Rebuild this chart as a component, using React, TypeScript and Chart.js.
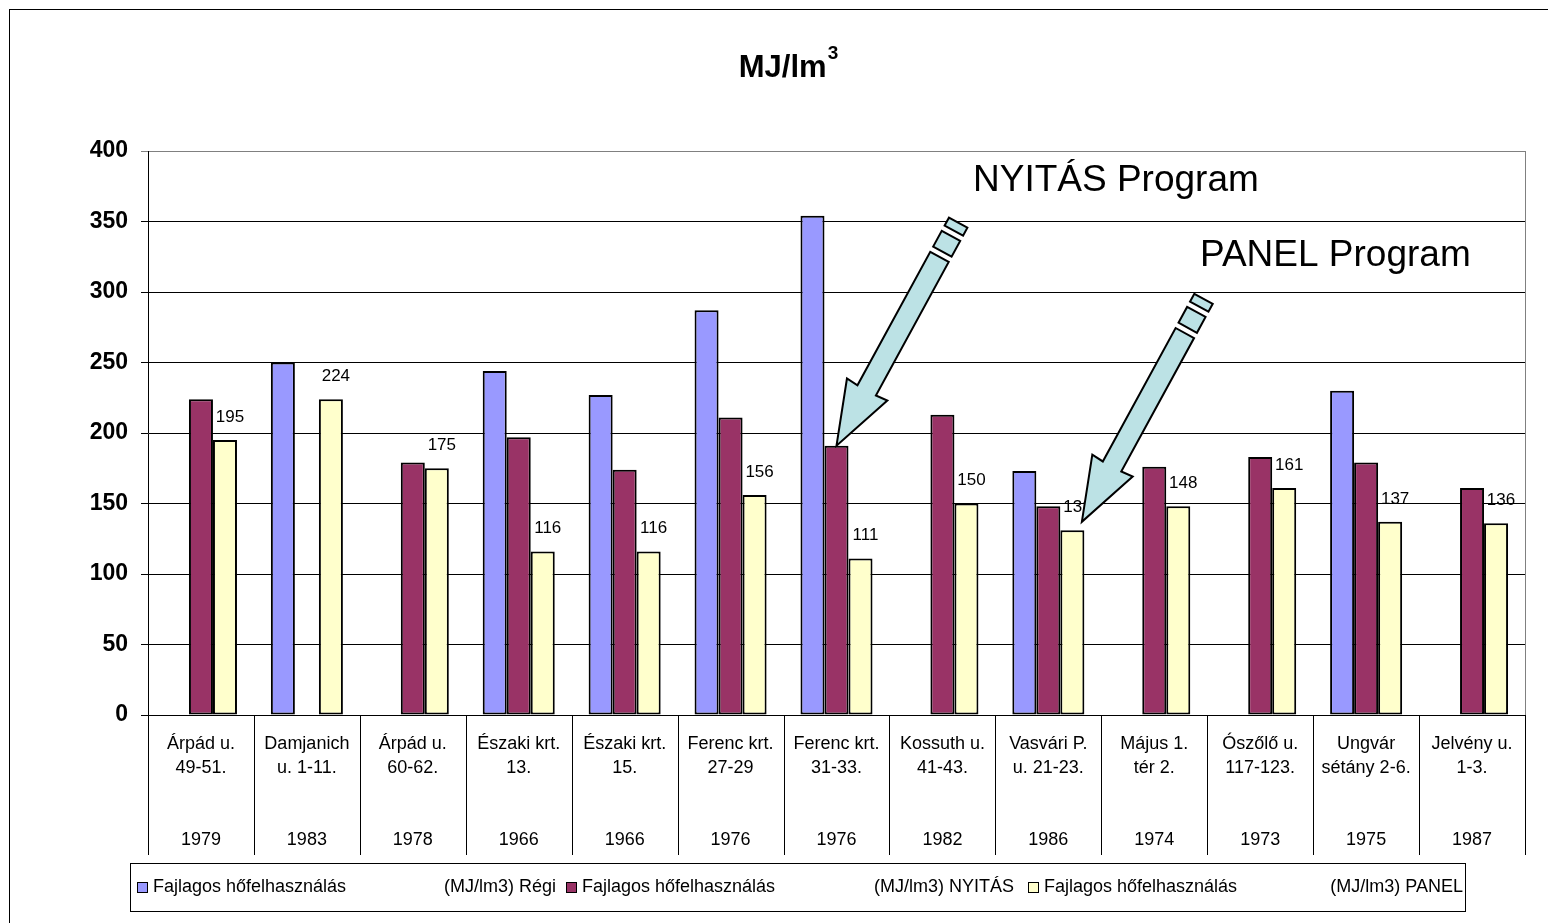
import React, { useEffect, useRef } from "react";
import { Chart, registerables } from "chart.js";

Chart.register(...registerables);

const FONT = '"Liberation Sans", Arial, Helvetica, sans-serif';

// ---- data ----
const streets: string[][] = [
  ["Árpád u.", "49-51."],
  ["Damjanich", "u. 1-11."],
  ["Árpád u.", "60-62."],
  ["Északi krt.", "13."],
  ["Északi krt.", "15."],
  ["Ferenc krt.", "27-29"],
  ["Ferenc krt.", "31-33."],
  ["Kossuth u.", "41-43."],
  ["Vasvári P.", "u. 21-23."],
  ["Május 1.", "tér 2."],
  ["Ószőlő u.", "117-123."],
  ["Ungvár", "sétány 2-6."],
  ["Jelvény u.", "1-3."],
];
const years = ["1979", "1983", "1978", "1966", "1966", "1976", "1976", "1982", "1986", "1974", "1973", "1975", "1987"];
const regi = [null, 250, null, 244, 227, 287, 354, null, 173, null, null, 230, null];
const nyitas = [224, null, 179, 197, 174, 211, 191, 213, 148, 176, 183, 179, 161];
const panel = [195, 224, 175, 116, 116, 156, 111, 150, 131, 148, 161, 137, 136];
const seriesNames = [
  ["Fajlagos hőfelhasználás", "(MJ/lm3) Régi"],
  ["Fajlagos hőfelhasználás", "(MJ/lm3) NYITÁS"],
  ["Fajlagos hőfelhasználás", "(MJ/lm3) PANEL"],
];
const seriesColors = ["#9999FF", "#993366", "#FFFFCC"];
const yMin = 0;
const yMax = 400;
const yStep = 50;
const titleMain = "MJ/lm";
const titleSup = "3";
const notes = ["NYITÁS Program", "PANEL Program"];

// arrow shape (along axis from tip, perpendicular offset)
function drawArrow(ctx: CanvasRenderingContext2D, tx: number, ty: number) {
  const ux = 0.479, uy = -0.878; // tip -> tail
  const vx = 0.878, vy = 0.479;
  const P = (a: number, p: number): [number, number] => [tx + ux * a + vx * p, ty + uy * a + vy * p];
  const poly = (pts: [number, number][]) => {
    ctx.beginPath();
    pts.forEach((q, i) => (i ? ctx.lineTo(q[0], q[1]) : ctx.moveTo(q[0], q[1])));
    ctx.closePath();
    ctx.fill();
    ctx.stroke();
  };
  const hw = 10.5;
  ctx.save();
  ctx.fillStyle = "#BCE2E5";
  ctx.strokeStyle = "#000";
  ctx.lineWidth = 2;
  ctx.lineJoin = "miter";
  poly([P(0, 0), P(64, -23), P(63, -hw), P(215, -hw), P(215, hw), P(63, hw), P(64, 23)]);
  poly([P(221, -hw), P(239, -hw), P(239, hw), P(221, hw)]);
  poly([P(245, -hw), P(254, -hw), P(254, hw), P(245, hw)]);
  ctx.restore();
}

const decor = {
  id: "decor",
  beforeDatasetsDraw(chart: any) {
    const { ctx, chartArea: a } = chart;
    ctx.save();
    ctx.strokeStyle = "#808080";
    ctx.lineWidth = 1;
    ctx.beginPath();
    ctx.moveTo(a.right + 0.5, a.top);
    ctx.lineTo(a.right + 0.5, a.bottom);
    ctx.stroke();
    ctx.restore();
  },
  afterDatasetsDraw(chart: any) {
    const { ctx } = chart;
    const meta = chart.getDatasetMeta(2);
    ctx.save();
    ctx.fillStyle = "#000";
    ctx.font = `17px ${FONT}`;
    ctx.textAlign = "center";
    ctx.textBaseline = "middle";
    meta.data.forEach((bar: any, i: number) => {
      const v = panel[i];
      if (v == null) return;
      ctx.fillText(String(v), bar.x + 5, bar.y - 23);
    });
    ctx.restore();
  },
  afterDraw(chart: any) {
    const { ctx, chartArea: a, scales } = chart;
    const xs = scales.x;
    ctx.save();
    // x axis line
    ctx.strokeStyle = "#000";
    ctx.lineWidth = 1;
    ctx.beginPath();
    ctx.moveTo(a.left, Math.round(a.bottom) + 0.5);
    ctx.lineTo(a.right, Math.round(a.bottom) + 0.5);
    ctx.stroke();
    // category separators
    const half = (xs.getPixelForValue(1) - xs.getPixelForValue(0)) / 2;
    ctx.beginPath();
    for (let i = 0; i <= streets.length; i++) {
      const x = Math.round(xs.getPixelForValue(0) - half + i * 2 * half) + 0.5;
      ctx.moveTo(x, a.bottom);
      ctx.lineTo(x, a.bottom + 140);
    }
    ctx.stroke();

    // title
    ctx.fillStyle = "#000";
    ctx.textBaseline = "alphabetic";
    ctx.textAlign = "left";
    ctx.font = `bold 31px ${FONT}`;
    const w1 = ctx.measureText(titleMain).width;
    ctx.font = `bold 19px ${FONT}`;
    const w2 = ctx.measureText(titleSup).width;
    const tx = 778 - (w1 + w2) / 2;
    ctx.font = `bold 31px ${FONT}`;
    ctx.fillText(titleMain, tx, 67);
    ctx.font = `bold 19px ${FONT}`;
    ctx.fillText(titleSup, tx + w1 + 1, 49);

    // legend
    ctx.strokeStyle = "#000";
    ctx.lineWidth = 1;
    ctx.strokeRect(120.5, 853.5, 1335, 48);
    const sq = [127, 556, 1018];
    const ends = [546, 1004, 1453];
    ctx.font = `18px ${FONT}`;
    ctx.textBaseline = "middle";
    seriesNames.forEach((nm, i) => {
      ctx.fillStyle = seriesColors[i];
      ctx.fillRect(sq[i] + 0.5, 872.5, 10, 10);
      ctx.strokeRect(sq[i] + 0.5, 872.5, 10, 10);
      ctx.fillStyle = "#000";
      ctx.textAlign = "left";
      ctx.fillText(nm[0], sq[i] + 16, 877);
      ctx.textAlign = "right";
      ctx.fillText(nm[1], ends[i], 877);
    });

    // arrows
    const b1 = chart.getDatasetMeta(1).data[6];
    const b2 = chart.getDatasetMeta(2).data[8];
    drawArrow(ctx, b1.x, b1.y);
    drawArrow(ctx, b2.x + 9.5, b2.y - 8.5);

    // annotation texts
    ctx.fillStyle = "#000";
    ctx.textAlign = "left";
    ctx.textBaseline = "alphabetic";
    ctx.font = `37px ${FONT}`;
    ctx.fillText(notes[0], 963, 181);
    ctx.fillText(notes[1], 1190, 256);
    ctx.restore();
  },
};

export default function App() {
  const ref = useRef<HTMLCanvasElement>(null);
  useEffect(() => {
    const chart = new Chart(ref.current!, {
      type: "bar",
      data: {
        labels: streets.map((s, i) => [s[0], s[1], "", "", years[i]]),
        datasets: [regi, nyitas, panel].map((d, i) => ({
          label: seriesNames[i].join(" "),
          data: d as any,
          backgroundColor: seriesColors[i],
          borderColor: "#000",
          borderWidth: 2,
          borderSkipped: false,
          barPercentage: 1,
          categoryPercentage: 0.68,
        })),
      },
      options: {
        animation: false,
        responsive: false,
        layout: { padding: { top: 141, right: 23, bottom: 58, left: 0 } },
        plugins: { legend: { display: false }, tooltip: { enabled: false }, title: { display: false } },
        scales: {
          x: {
            ticks: {
              color: "#000",
              font: { family: FONT, size: 18, lineHeight: 24 / 18 },
              padding: 17,
              autoSkip: false,
              maxRotation: 0,
            },
            grid: { display: false, drawTicks: false },
            border: { display: false },
            afterFit: (s: any) => {
              s.height = 150;
            },
          },
          y: {
            min: yMin,
            max: yMax,
            ticks: {
              stepSize: yStep,
              color: "#000",
              font: { family: FONT, size: 23, weight: "bold" },
              padding: 13,
            },
            grid: {
              color: (c: any) => (c.tick && c.tick.value === yMax ? "#808080" : "#000"),
              tickLength: 7,
              lineWidth: 1,
            },
            border: { color: "#000", width: 1 },
            afterFit: (s: any) => {
              s.width = 138;
            },
          },
        },
      },
      plugins: [decor],
    });
    return () => chart.destroy();
  }, []);
  return (
    <div
      style={{
        position: "fixed",
        left: 9,
        top: 9,
        width: 1538,
        height: 913,
        borderTop: "1px solid #000",
        borderLeft: "1px solid #000",
        background: "#fff",
      }}
    >
      <canvas ref={ref} width={1538} height={913} style={{ display: "block", width: 1538, height: 913 }} />
    </div>
  );
}
